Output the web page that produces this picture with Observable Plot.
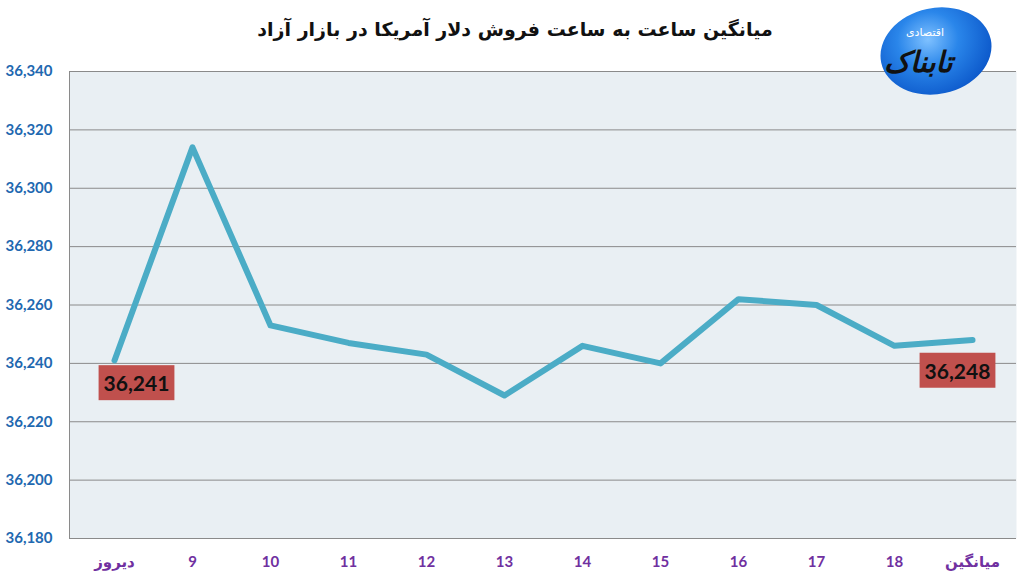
<!DOCTYPE html>
<html>
<head>
<meta charset="utf-8">
<script src="https://cdn.jsdelivr.net/npm/d3@7"></script>
<script src="https://cdn.jsdelivr.net/npm/@observablehq/plot@0.6"></script>
<style>
  html, body { margin: 0; padding: 0; background: #fff; }
  #wrap { position: relative; width: 1022px; height: 583px; overflow: hidden; }
  #title { position: absolute; left: 0; width: 1030px; top: 18px; text-align: center;
           font-family: "DejaVu Sans", "Noto Sans", sans-serif; font-weight: bold; font-size: 19px;
           color: #111; direction: rtl; }
  #logo { position: absolute; left: 880px; top: 8px; width: 112px; height: 86px; border-radius: 50%;
          background: radial-gradient(ellipse at 45% 35%, #7fc1ff 0%, #2a86ea 35%, #0a55c8 80%, rgba(10,85,200,0) 100%);
          transform: rotate(-12deg); }
  #logo1 { position: absolute; left: 884px; top: 46px; font-family: "DejaVu Sans", sans-serif;
           font-weight: bold; font-size: 29px; color: #111; direction: rtl; font-style: italic; letter-spacing: -1px;
           line-height: 32px; }
  #logo2 { position: absolute; left: 906px; top: 26px; font-family: "DejaVu Sans", sans-serif;
           font-size: 11px; color: #fff; direction: rtl; line-height: 13px; }
</style>
</head>
<body>
<div id="wrap">
  <div id="title">میانگین ساعت به ساعت فروش دلار آمریکا در بازار آزاد</div>
  <div id="logo"></div>
  <div id="logo2">اقتصادی</div>
  <div id="logo1">تابناک</div>
  <div id="chart"></div>
</div>
<script>
const categories = ["دیروز", "9", "10", "11", "12", "13", "14", "15", "16", "17", "18", "میانگین"];
const prices = [36241, 36314, 36253, 36247, 36243, 36229, 36246, 36240, 36262, 36260, 36246, 36248];
const yTicks = [36180, 36200, 36220, 36240, 36260, 36280, 36300, 36320, 36340];
const labeledFirst = [0];
const labeledLast = [11];

const data = categories.map((c, i) => ({cat: c, price: prices[i], i}));
const fmt = d3.format(",");

const chart = Plot.plot({
  width: 1022,
  height: 583,
  marginLeft: 69,
  marginRight: 6,
  marginTop: 71,
  marginBottom: 45,
  style: {background: "transparent", overflow: "visible"},
  x: {type: "point", domain: categories, padding: 0.5},
  y: {domain: [36180, 36340], ticks: yTicks},
  marks: [
    Plot.frame({fill: "#E9EFF3", stroke: null}),
    Plot.gridY(yTicks, {stroke: "#8a8a8a", strokeOpacity: 1, strokeWidth: 1}),
    Plot.frame({anchor: "left", stroke: "#8a8a8a", strokeWidth: 1}),
    Plot.axisY(yTicks, {tickSize: 0, tickPadding: 17, tickFormat: fmt, label: null,
      fill: "#2168B0", fontSize: 15, fontWeight: "bold", fontFamily: "Lato, 'DejaVu Sans', sans-serif"}),
    Plot.axisX({tickSize: 0, tickPadding: 18, label: null,
      fill: "#7030A0", fontSize: 15, fontWeight: "bold", fontFamily: "Lato, 'DejaVu Sans', sans-serif"}),
    Plot.line(data, {x: "cat", y: "price", stroke: "#4BACC6", strokeWidth: 6,
      strokeLinejoin: "round", strokeLinecap: "round"}),
    Plot.text(data.filter(d => labeledFirst.includes(d.i)), {x: "cat", y: "price", text: d => fmt(d.price),
      dx: 22, dy: 24, fill: "#111", fontSize: 21, fontWeight: "bold", fontFamily: "Lato, sans-serif"}),
    Plot.text(data.filter(d => labeledLast.includes(d.i)), {x: "cat", y: "price", text: d => fmt(d.price),
      dx: -15, dy: 32, fill: "#111", fontSize: 21, fontWeight: "bold", fontFamily: "Lato, sans-serif"})
  ]
});
document.getElementById("chart").appendChild(chart);

// draw boxes behind the value labels, sized from the rendered text
chart.querySelectorAll('g[aria-label="text"] text').forEach(t => {
  const b = t.getBBox();
  const r = document.createElementNS("http://www.w3.org/2000/svg", "rect");
  const padX = 5, padY = 5;
  r.setAttribute("x", b.x - padX);
  r.setAttribute("y", b.y - padY);
  r.setAttribute("width", b.width + 2 * padX);
  r.setAttribute("height", b.height + 2 * padY);
  r.setAttribute("fill", "#C0504D");
  const tr = t.getAttribute("transform");
  if (tr) r.setAttribute("transform", tr);
  t.parentNode.insertBefore(r, t);
});
</script>
</body>
</html>
